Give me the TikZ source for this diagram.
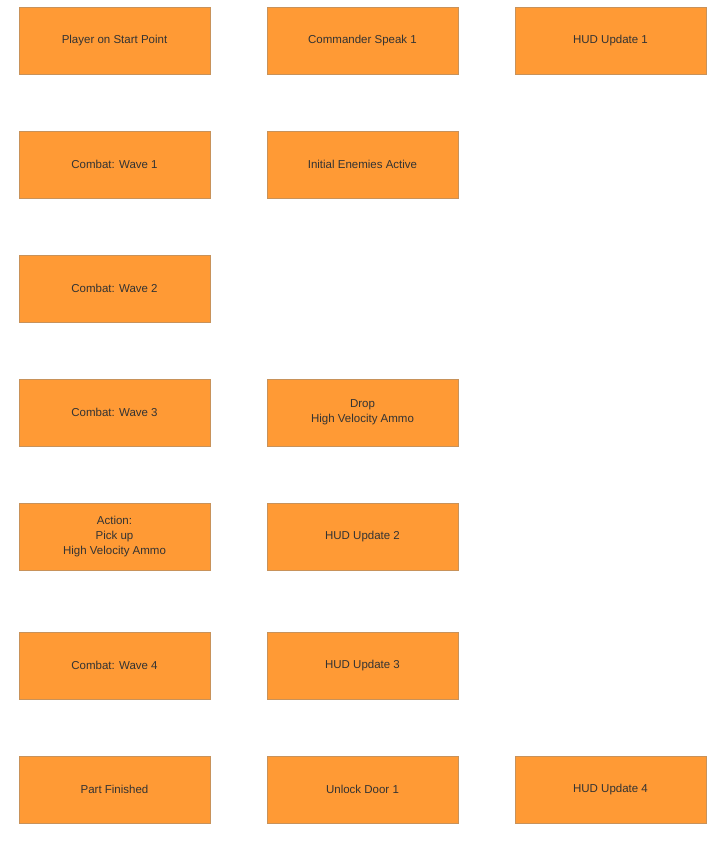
\documentclass[tikz,border=0pt]{standalone}
\usepackage{fontspec}
\setmainfont{Liberation Sans}
\definecolor{boxfill}{HTML}{FF9A35}
\definecolor{boxline}{HTML}{C8925A}
\definecolor{txt}{HTML}{333333}
\begin{document}
\begin{tikzpicture}[x=1pt,y=-1pt,
  box/.style={draw=boxline,fill=boxfill,minimum width=191pt,minimum height=67pt,inner sep=0pt,
    align=center,font=\fontsize{11.5}{15}\selectfont,text=txt}]
\useasboundingbox (0,0) rectangle (726,844);
\def\cA{114.5}\def\cB{362.5}\def\cC{610.5}
\node[box] (n1) at (\cA,41) {Player on Start Point};
\node[box] (n2) at (\cB,41) {Commander Speak 1};
\node[box] (n3) at (\cC,41) {HUD Update 1};
\node[box] (n4) at (\cA,164.5) {Combat: Wave 1};
\node[box] (n5) at (\cB,164.5) {Initial Enemies Active};
\node[box] (n6) at (\cA,288.5) {Combat: Wave 2};
\node[box] (n7) at (\cA,412.5) {Combat: Wave 3};
\node[box] (n8) at (\cB,412.5) {Drop\\High Velocity Ammo};
\node[box] (n9) at (\cA,536.5) {Action:\\Pick up\\High Velocity Ammo};
\node[box] (n10) at (\cB,536.5) {HUD Update 2};
\node[box] (n11) at (\cA,665.5) {Combat: Wave 4};
\node[box] (n12) at (\cB,665.5) {HUD Update 3};
\node[box] (n13) at (\cA,789.5) {Part Finished};
\node[box] (n14) at (\cB,789.5) {Unlock Door 1};
\node[box] (n15) at (\cC,789.5) {HUD Update 4};
\end{tikzpicture}
\end{document}
